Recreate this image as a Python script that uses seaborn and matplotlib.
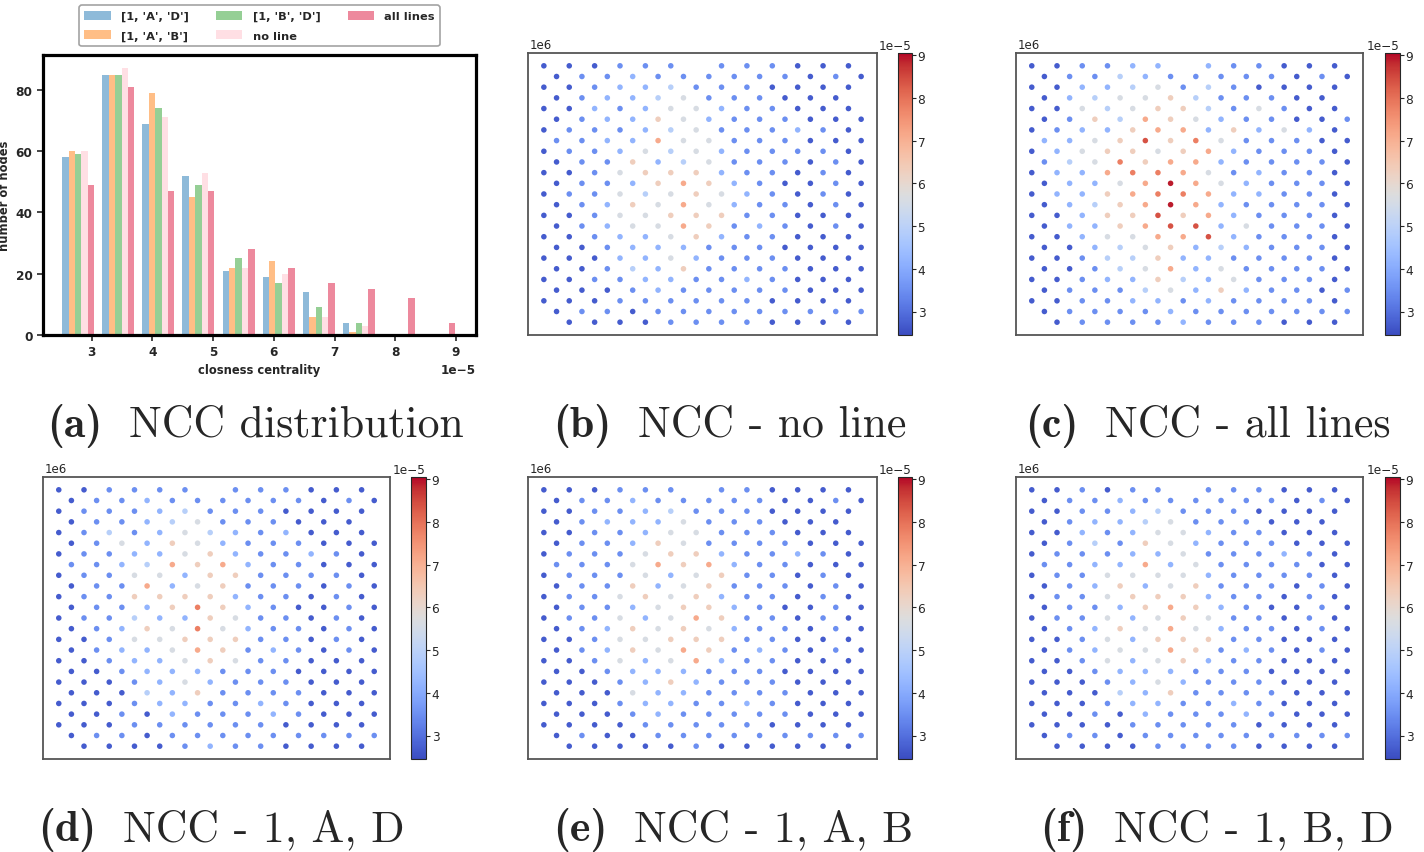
import numpy as np
import pandas as pd
import matplotlib
matplotlib.use("Agg")
import matplotlib.pyplot as plt
import seaborn as sns
from matplotlib.colors import Normalize
from matplotlib.cm import ScalarMappable

# ---- panel (a): node counts per closeness bin (10 equal bins) ----
bin_range = (2.45e-5, 9.05e-5)
n_bins = 10
scenarios = ["[1, 'A', 'D']", "[1, 'A', 'B']", "[1, 'B', 'D']", "no line", "all lines"]
counts_1AD = [58, 85, 69, 52, 21, 19, 14, 4, 0, 0]
counts_1AB = [60, 85, 79, 45, 22, 24, 6, 1, 0, 0]
counts_1BD = [59, 85, 74, 49, 25, 17, 9, 4, 0, 0]
counts_none = [60, 87, 71, 53, 22, 20, 6, 3, 0, 0]
counts_all = [49, 81, 47, 47, 28, 22, 17, 15, 12, 4]
scenario_colors = ["tab:blue", "tab:orange", "tab:green", "pink", "crimson"]

# ---- panels (b)-(f): closeness of each node on the grid ----
# 25 rows x 13 columns, odd rows shifted by half a column, '.' = no node
# each digit is a colour level -> closeness (x 1e-5)
level_values = [2.7, 3.5, 4.2, 4.9, 5.6, 6.3, 7.1, 7.8, 8.4, 8.9]

map_none = [
    "000111.111000", "0112111111010", "0012231110000", "012234111000.",
    "0021244211000", "0122542111000", "0111234111210", "1122644111000",
    "0112434211110", "0115234111010", "0014555211010", "0112565210010",
    "0114345421010", "0125464211010", "0014455511000", "0124465121010",
    "0012245211000", "0012221110000", "0002242111000", "0013251111000",
    "0011221121000", "0001211111000", "0001111110000", "0110111111111",
    ".000011110000",
]
map_all = [
    "001122.211000", "0113211111010", "0022341310000", "023445311100.",
    "0043455314100", "0153654211001", "0122566252420", "2245857411100",
    "0245545621110", "1347566211110", "0226776412110", "0224696421110",
    "0225677622110", "0235696211110", "0025585621110", "0225688241110",
    "0024466821110", "0023452321110", "0013352211110", "0013462411110",
    "0012253241110", "0111342521101", "0011221211110", "0111121111111",
    ".011112111000",
]
map_1AD = [
    "001111.111000", "0112111111010", "0111231110000", "011234111000.",
    "0131243212000", "0142542111000", "0112245211210", "1123656211000",
    "0114425511110", "0116245111010", "0115555211010", "0112575210010",
    "0113225411010", "0125474211010", "0014455511010", "0122465121010",
    "0012245411000", "0012221110000", "0001242111000", "0003251111000",
    "0001221121000", "0010211121000", "0001111110000", "0110111111111",
    ".000012110000",
]
map_1AB = [
    "000111.110000", "0112111110010", "0011231110000", "012224111000.",
    "0011244111000", "0112541111000", "0111455211210", "1114656211000",
    "0111424511010", "0115245111010", "0114545211010", "0112455210010",
    "0114246511010", "0125454211010", "0014455511000", "0125465121010",
    "0014246211000", "0012221110000", "0001252111000", "0004221111000",
    "0001221121000", "0001211111000", "0000111110000", "0100111111111",
    ".000001000000",
]
map_1BD = [
    "001011.111000", "0112111111010", "0011231110000", "012234111000.",
    "0021244211000", "0131542111000", "0111224111210", "1122624111100",
    "0114444211110", "0125245111010", "0114555211010", "0112565210010",
    "0114245411010", "0125464211010", "0014255511000", "0124465121010",
    "0014245211000", "0012221110000", "0001242111000", "0003251111000",
    "0001221121000", "0010211121000", "0000111110000", "0110111111111",
    ".000011110000",
]

# grid geometry (projected metres)
grid_x0, half_col, grid_y0, row_step = 3.0e5, 1.0e4, 2.6e6, 1.0e4

caption_tags = ["(a)", "(b)", "(c)", "(d)", "(e)", "(f)"]
caption_texts = ["NCC distribution", "NCC - no line", "NCC - all lines",
                 "NCC - 1, A, D", "NCC - 1, A, B", "NCC - 1, B, D"]


def grid_frame(rows):
    recs = []
    for r, line in enumerate(rows):
        for c, ch in enumerate(line):
            if ch == ".":
                continue
            recs.append({
                "x": grid_x0 + (2 * c + r % 2) * half_col,
                "y": grid_y0 - r * row_step,
                "ncc": level_values[int(ch)] * 1e-5,
            })
    return pd.DataFrame(recs)


sns.set_style("white")
plt.rcParams["font.family"] = ["DejaVu Sans"]

W, H = 1424, 853
fig = plt.figure(figsize=(W / 100, H / 100), dpi=100)


def px_axes(left, top, right, bottom):
    return fig.add_axes([left / W, 1 - bottom / H, (right - left) / W, (bottom - top) / H])


# ---------------- (a) histogram ----------------
edges = np.linspace(bin_range[0], bin_range[1], n_bins + 1)
centers = (edges[:-1] + edges[1:]) / 2
all_counts = [counts_1AD, counts_1AB, counts_1BD, counts_none, counts_all]
hist_df = pd.concat([
    pd.DataFrame({"centrality": centers, "count": cnt, "scenario": name})
    for name, cnt in zip(scenarios, all_counts)
], ignore_index=True)

ax = px_axes(43, 56, 476, 336)
sns.histplot(data=hist_df, x="centrality", weights="count", hue="scenario",
             hue_order=scenarios, palette=scenario_colors, bins=n_bins,
             binrange=bin_range, multiple="dodge", shrink=0.8, alpha=0.5,
             linewidth=0, ax=ax)
ax.set_xlim(2.2e-5, 9.33e-5)
ax.set_ylim(0, 91.4)
ax.set_yticks([0, 20, 40, 60, 80])
ax.set_xlabel("closness centrality", fontsize=8.3, fontweight="bold", labelpad=3)
ax.set_ylabel("number of nodes", fontsize=8.3, fontweight="bold", labelpad=3)
ax.tick_params(axis="both", direction="out", length=4, width=1.2, labelsize=8.7,
               bottom=True, left=True, pad=3.5)
for lbl in ax.get_xticklabels() + ax.get_yticklabels():
    lbl.set_fontweight("bold")
ax.xaxis.get_offset_text().set_fontsize(8.7)
ax.xaxis.get_offset_text().set_fontweight("bold")
for sp in ax.spines.values():
    sp.set_color("black")
    sp.set_linewidth(2.3)
sns.move_legend(ax, "lower center", bbox_to_anchor=(0.5, 1.032), ncol=3, title=None,
                frameon=True, fontsize=8.2, handlelength=2.3, handleheight=0.9,
                handletextpad=0.9, columnspacing=2.4, borderpad=0.45,
                labelspacing=0.75, borderaxespad=0)
leg = ax.get_legend()
for t in leg.get_texts():
    t.set_fontweight("bold")
leg.get_frame().set_edgecolor("#8c8c8c")
leg.get_frame().set_linewidth(1.2)

# ---------------- (b)-(f) node maps ----------------
norm = Normalize(vmin=bin_range[0], vmax=bin_range[1])
panels = [
    ("b", map_none, (528, 54, 877, 336), (898, 912)),
    ("c", map_all, (1016, 54, 1363, 336), (1385, 1400)),
    ("d", map_1AD, (43, 478, 390, 760), (411, 426)),
    ("e", map_1AB, (528, 478, 877, 760), (898, 912)),
    ("f", map_1BD, (1016, 478, 1363, 760), (1385, 1400)),
]
for key, rows, (l, t, r, b), (cl, cr) in panels:
    ax = px_axes(l, t, r, b)
    df = grid_frame(rows)
    sns.scatterplot(data=df, x="x", y="y", hue="ncc", palette="coolwarm",
                    hue_norm=norm, s=16, linewidth=0, legend=False, ax=ax)
    ax.set_xlabel("")
    ax.set_ylabel("")
    ax.tick_params(left=False, bottom=False, labelleft=False, labelbottom=False)
    ax.text(0.004, 1.006, "1e6", transform=ax.transAxes, ha="left", va="bottom",
            fontsize=8.5)
    for sp in ax.spines.values():
        sp.set_visible(True)
        sp.set_color("#555555")
        sp.set_linewidth(1.3)
    cax = px_axes(cl, t, cr, b)
    cb = fig.colorbar(ScalarMappable(norm=norm, cmap="coolwarm"), cax=cax)
    cb.ax.tick_params(labelsize=8.7, length=3, pad=1)
    cb.ax.yaxis.get_offset_text().set_fontsize(8.7)
    cb.outline.set_linewidth(0.8)

# ---------------- captions ----------------
# left edge of each caption and its baseline, in pixels
cap_left = [47, 553, 1025, 38, 553, 1040]
cap_base = [437, 437, 437, 841, 841, 841]
renderer = fig.canvas.get_renderer()
for tag, txt, cx, cy in zip(caption_tags, caption_texts, cap_left, cap_base):
    t1 = fig.text(cx / W, 1 - cy / H, tag, ha="left", va="baseline",
                  fontsize=31.5, fontfamily="cmb10")
    w1 = t1.get_window_extent(renderer=renderer).width
    fig.text((cx + w1 + 27) / W, 1 - cy / H, txt, ha="left", va="baseline",
             fontsize=31.5, fontfamily="cmr10")

fig.savefig("out.png", dpi=100)
